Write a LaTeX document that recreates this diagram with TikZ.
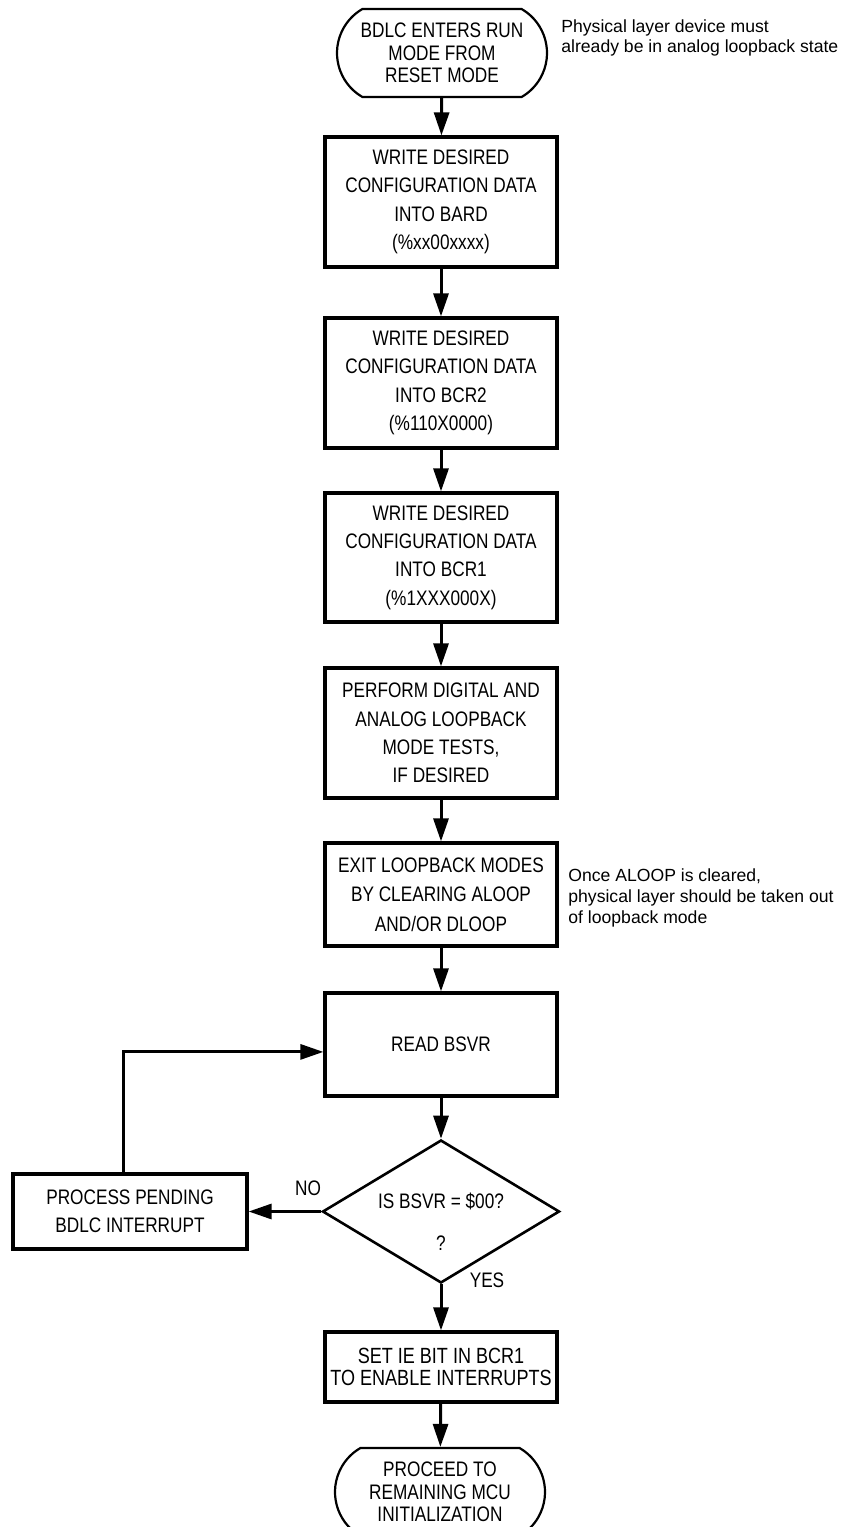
\documentclass[tikz,border=0pt]{standalone}
\usepackage{fontspec}
\setmainfont{Liberation Sans}
\newfontfamily\narrowfont{Liberation Sans}[FakeStretch=0.82]
\usetikzlibrary{arrows.meta,shapes.geometric,shapes.misc}

\begin{document}
\begin{tikzpicture}[x=0.5pt,y=-0.5pt,
  box/.style={draw,line width=1.6pt,minimum width=116pt,inner sep=0pt,align=center,
    font=\narrowfont\fontsize{10.5}{14.2}\selectfont},
  term/.style={draw,line width=1.1pt,rounded rectangle,rounded rectangle arc length=120,
    minimum width=105pt,minimum height=44pt,inner sep=0pt,align=center,
    font=\narrowfont\fontsize{10.5}{11.3}\selectfont},
  decision/.style={draw,diamond,line width=1.3pt,minimum width=118.5pt,minimum height=71.5pt,inner sep=0pt},
  note/.style={anchor=west,align=left,inner sep=0pt,font=\fontsize{8.8}{10.4}\selectfont},
  lbl/.style={inner sep=0pt,font=\narrowfont\fontsize{10.5}{12}\selectfont},
  arr/.style={line width=1.5pt,-{Triangle[length=11.5pt,width=7.5pt]}}]

  \useasboundingbox (0,0) rectangle (846,1527);

  % Ablauf
  \node[term] (start) at (442,53) {BDLC ENTERS RUN\\MODE FROM\\RESET MODE};
  \node[note] (note1) at (561,38) {Physical layer device must\\already be in analog loopback state};

  \node[box,minimum height=65pt] (bard) at (441,202)
    {WRITE DESIRED\\CONFIGURATION DATA\\INTO BARD\\(\%xx00xxxx)};
  \node[box,minimum height=65pt] (bcrtwo) at (441,383)
    {WRITE DESIRED\\CONFIGURATION DATA\\INTO BCR2\\(\%110X0000)};
  \node[box,minimum height=64.5pt] (bcrone) at (441,557.5)
    {WRITE DESIRED\\CONFIGURATION DATA\\INTO BCR1\\(\%1XXX000X)};
  \node[box,minimum height=65pt] (tests) at (441,733)
    {PERFORM DIGITAL AND\\ANALOG LOOPBACK\\MODE TESTS,\\IF DESIRED};
  \node[box,minimum height=51.5pt,font=\narrowfont\fontsize{10.5}{14.7}\selectfont] (exit) at (441,894.5)
    {EXIT LOOPBACK MODES\\BY CLEARING ALOOP\\AND/OR DLOOP};
  \node[note] (note2) at (568,898) {Once ALOOP is cleared,\\physical layer should be taken out\\of loopback mode};

  \node[box,minimum height=51.5pt] (read) at (441,1044.5) {READ BSVR};

  \node[decision] (check) at (441,1211.5) {};
  \node[lbl,align=center] (checktxt) at (441,1222) {IS BSVR = \$00?\\[9pt]?};
  \node[lbl] (no) at (308,1188) {NO};
  \node[lbl] (yes) at (487,1280) {YES};

  \node[box,minimum width=117pt,minimum height=37.5pt] (pending) at (130,1211.5)
    {PROCESS PENDING\\BDLC INTERRUPT};

  \node[box,minimum height=35pt,font=\narrowfont\fontsize{11}{11.2}\selectfont] (enable) at (441,1367)
    {SET IE BIT IN BCR1\\TO ENABLE INTERRUPTS};
  \node[term] (proceed) at (440,1492) {PROCEED TO\\REMAINING MCU\\INITIALIZATION};

  % Pfeile
  \begin{scope}[arr]
    \draw (start) -- (bard);
    \draw (bard) -- (bcrtwo);
    \draw (bcrtwo) -- (bcrone);
    \draw (bcrone) -- (tests);
    \draw (tests) -- (exit);
    \draw (exit) -- (read);
    \draw (read) -- (check);
    \draw (check.west) -- (pending.east);
    \draw ([xshift=-3.5pt]pending.north) |- ([yshift=-3.7pt]read.west);
    \draw (check.south) -- (enable);
    \draw (enable) -- (proceed);
  \end{scope}
\end{tikzpicture}
\end{document}
